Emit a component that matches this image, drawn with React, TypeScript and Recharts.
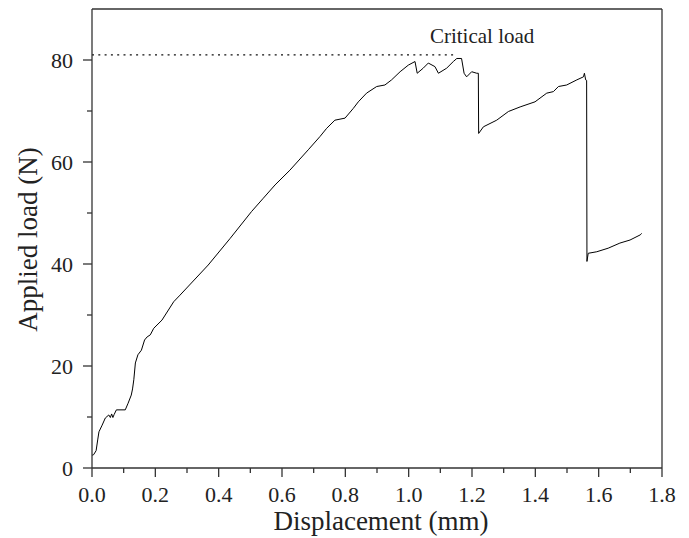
import React from 'react';
import { LineChart, Line, XAxis, YAxis, ReferenceLine, ReferenceDot, Label } from 'recharts';

const displacement = [
  0.0, 0.005, 0.013, 0.018, 0.022, 0.032, 0.042, 0.053, 0.058, 0.062, 0.066, 0.07, 0.077, 0.105,
  0.114, 0.124, 0.128, 0.132, 0.137, 0.145, 0.156, 0.166, 0.174, 0.184, 0.195, 0.221, 0.258, 0.278,
  0.367, 0.436, 0.504, 0.541, 0.578, 0.625, 0.683, 0.72, 0.741, 0.767, 0.799, 0.825, 0.841, 0.867,
  0.899, 0.925, 0.946, 0.973, 0.999, 1.02, 1.027, 1.046, 1.062, 1.083, 1.094, 1.12, 1.141, 1.152,
  1.167, 1.175, 1.183, 1.199, 1.215, 1.22, 1.221, 1.236, 1.278, 1.315, 1.352, 1.399, 1.436, 1.457,
  1.473, 1.499, 1.531, 1.552, 1.555, 1.559, 1.562, 1.563, 1.567, 1.594, 1.63, 1.667, 1.699, 1.731,
  1.736,
];
const appliedLoad = [
  2.5, 2.6, 3.4, 5.5, 7.1, 8.4, 9.8, 10.4, 9.9, 10.6, 9.9, 10.5, 11.4, 11.4,
  12.7, 14.3, 15.5, 17.3, 20.6, 22.2, 23.1, 25.1, 25.7, 26.1, 27.4, 29.0, 32.6, 33.9,
  39.8, 45.0, 50.3, 52.9, 55.5, 58.4, 62.4, 65.0, 66.6, 68.2, 68.6, 70.5, 71.8, 73.5,
  74.8, 75.1, 76.1, 77.7, 79.0, 79.7, 77.4, 78.4, 79.4, 78.7, 77.4, 78.4, 79.7, 80.3,
  80.3, 77.4, 76.7, 77.7, 77.4, 77.4, 65.6, 66.9, 68.2, 69.9, 70.8, 71.8, 73.5, 73.8,
  74.8, 75.1, 76.1, 76.7, 77.4, 76.1, 76.0, 40.5, 42.1, 42.4, 43.1, 44.1, 44.7, 45.7,
  46.0,
];

const xTicks = [0, 0.1, 0.2, 0.3, 0.4, 0.5, 0.6, 0.7, 0.8, 0.9, 1.0, 1.1, 1.2, 1.3, 1.4, 1.5, 1.6, 1.7, 1.8];
const yTicks = [0, 10, 20, 30, 40, 50, 60, 70, 80];
const criticalLoad = 81;
const criticalDisp = 1.153;
const xTitle = 'Displacement (mm)';
const yTitle = 'Applied load (N)';
const noteText = 'Critical load';

const data = displacement.map((d, i) => ({ d, load: appliedLoad[i] }));

const FONT = '"Liberation Serif", "Times New Roman", serif';
const AXIS = '#333';

const XTick = (props: any) => {
  const { x, y, payload } = props;
  const v = payload.value as number;
  const major = Math.round(v * 10) % 2 === 0;
  return (
    <g>
      <line x1={x} x2={x} y1={y} y2={y + (major ? 9 : 5)} stroke={AXIS} strokeWidth={1.3} />
      {major && (
        <text x={x} y={y + 34} textAnchor="middle" fontFamily={FONT} fontSize={22} fill="#222">
          {v.toFixed(1)}
        </text>
      )}
    </g>
  );
};

const YTick = (props: any) => {
  const { x, y, payload } = props;
  const v = payload.value as number;
  const major = v % 20 === 0;
  return (
    <g>
      <line x1={x - (major ? 9 : 5)} x2={x} y1={y} y2={y} stroke={AXIS} strokeWidth={1.3} />
      {major && (
        <text x={x - 19} y={y} dy="0.35em" textAnchor="end" fontFamily={FONT} fontSize={22} fill="#222">
          {v}
        </text>
      )}
    </g>
  );
};

const XTitle = (props: any) => {
  const vb = props.viewBox || {};
  return (
    <text x={vb.x + vb.width / 2 + 4} y={vb.y + 62} textAnchor="middle" fontFamily={FONT} fontSize={27} fill="#222">
      {xTitle}
    </text>
  );
};

const YTitle = (props: any) => {
  const vb = props.viewBox || {};
  const cx = vb.x + 29;
  const cy = vb.y + vb.height / 2 + 1;
  return (
    <text x={cx} y={cy} transform={`rotate(-90 ${cx} ${cy})`} textAnchor="middle" fontFamily={FONT} fontSize={27} fill="#222">
      {yTitle}
    </text>
  );
};

const NoteLabel = (props: any) => {
  const vb = props.viewBox || {};
  return (
    <text x={vb.x + (vb.width || 0) / 2} y={vb.y + (vb.height || 0) / 2} textAnchor="middle" fontFamily={FONT} fontSize={21} fill="#222">
      {noteText}
    </text>
  );
};

export default function App() {
  return (
    <LineChart width={681} height={530} data={data} margin={{ top: 1, right: 27, left: 0, bottom: 0 }}>
      <XAxis
        type="number"
        dataKey="d"
        domain={[0, 1.8]}
        ticks={xTicks}
        interval={0}
        tickSize={0}
        tickMargin={0}
        tickLine={false}
        tick={<XTick />}
        height={70}
        axisLine={{ stroke: AXIS, strokeWidth: 1.3 }}
        allowDataOverflow
      >
        <Label content={<XTitle />} />
      </XAxis>
      <YAxis
        type="number"
        domain={[0, 90]}
        ticks={yTicks}
        interval={0}
        tickSize={0}
        tickMargin={0}
        tickLine={false}
        tick={<YTick />}
        width={84}
        axisLine={{ stroke: AXIS, strokeWidth: 1.3 }}
        allowDataOverflow
      >
        <Label content={<YTitle />} />
      </YAxis>
      <ReferenceLine y={90} stroke={AXIS} strokeWidth={1.3} ifOverflow="visible" />
      <ReferenceLine x={1.8} stroke={AXIS} strokeWidth={1.3} ifOverflow="visible" />
      <ReferenceLine
        segment={[
          { x: 0, y: criticalLoad },
          { x: criticalDisp, y: criticalLoad },
        ]}
        stroke="#111"
        strokeWidth={1.2}
        strokeDasharray="2 4.3"
      />
      <ReferenceDot x={1.232} y={83.3} r={1} fill="none" stroke="none" label={<NoteLabel />} />
      <Line
        type="linear"
        dataKey="load"
        stroke="#000"
        strokeWidth={1}
        dot={false}
        isAnimationActive={false}
      />
    </LineChart>
  );
}
